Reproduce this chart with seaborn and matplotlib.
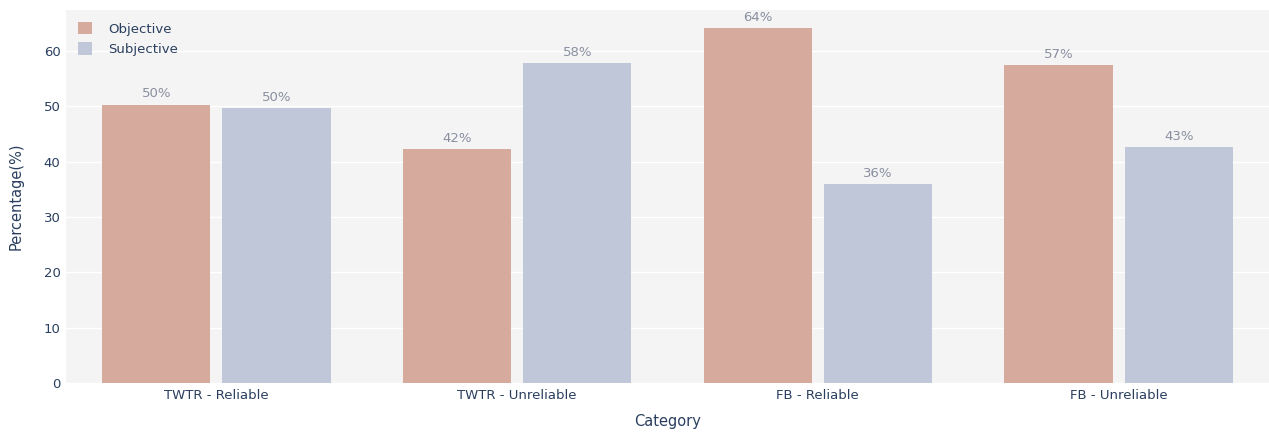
import seaborn as sns
import pandas as pd
import matplotlib.pyplot as plt

categories = ["TWTR - Reliable", "TWTR - Unreliable", "FB - Reliable", "FB - Unreliable"]
objective = [50.3, 42.2, 64.1, 57.4]
subjective = [49.7, 57.8, 35.9, 42.6]
series = ["Objective", "Subjective"]
colors = ["#d7aa9e", "#c0c7d9"]

df = pd.DataFrame({
    "Category": categories * 2,
    "Percentage": objective + subjective,
    "Type": [series[0]] * 4 + [series[1]] * 4,
})

sns.set_theme(style="darkgrid", rc={
    "axes.facecolor": "#f4f4f4",
    "grid.color": "white",
    "grid.linewidth": 1.0,
})
plt.rcParams["font.family"] = ["DejaVu Sans"]
text_col = "#2a3f5f"

fig = plt.figure(figsize=(12.69, 4.32), dpi=100)
ax = fig.add_axes([0.052, 0.113, 0.948, 0.864])

sns.barplot(data=df, x="Category", y="Percentage", hue="Type",
            palette=colors, width=0.8, gap=0.1, ax=ax, saturation=1,
            linewidth=0)

for cont in ax.containers:
    ax.bar_label(cont, labels=[f"{v:.0f}%" for v in cont.datavalues],
                 padding=3, color="#8a8fa0", fontsize=9.5)

ax.set_ylim(0, 67.4)
ax.set_xlim(-0.5, 3.5)
ax.set_yticks(range(0, 61, 10))
ax.grid(axis="x", visible=False)
for s in ax.spines.values():
    s.set_visible(False)
ax.tick_params(axis="both", colors=text_col, labelsize=9.5, length=0, pad=4)
ax.set_xlabel("Category", color=text_col, fontsize=10.5, labelpad=9)
ax.set_ylabel("Percentage(%)", color=text_col, fontsize=10.5, labelpad=14)

leg = ax.legend(loc="upper left", frameon=False, fontsize=9.5,
                handlelength=1.1, handleheight=1.1, handletextpad=1.2,
                labelspacing=0.5, bbox_to_anchor=(0.0, 1.0))
for t in leg.get_texts():
    t.set_color(text_col)

fig.savefig("out.png", dpi=100)
